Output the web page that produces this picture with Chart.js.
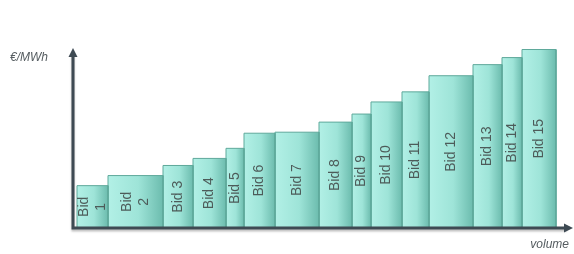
<!DOCTYPE html>
<html>
<head>
<meta charset="utf-8">
<script src="https://cdn.jsdelivr.net/npm/chart.js@4"></script>
<style>
  html, body { margin: 0; padding: 0; background: #fff; }
  #wrap { width: 574px; height: 254px; }
</style>
</head>
<body>
<div id="wrap"><canvas id="myChart"></canvas></div>
<script>
// bid stack: each bid has a volume (width) and a price (height)
var bidLabels = [["Bid", "1"], ["Bid", "2"], "Bid 3", "Bid 4", "Bid 5", "Bid 6", "Bid 7", "Bid 8",
                 "Bid 9", "Bid 10", "Bid 11", "Bid 12", "Bid 13", "Bid 14", "Bid 15"];
var volumes = [31, 55, 30, 33, 18, 31, 44, 33, 19, 31, 27, 44, 29, 20, 34];
var prices  = [42, 52, 62, 69, 79, 94, 95, 105, 113, 125, 135, 151, 162, 169, 177];
var startVolume = 4;

var datasets = [];
var x = startVolume;
for (var i = 0; i < volumes.length; i++) {
    var x0 = x, x1 = x + volumes[i];
    datasets.push({
        label: Array.isArray(bidLabels[i]) ? bidLabels[i].join(' ') : bidLabels[i],
        data: [{x: x0, y: 0}, {x: x0, y: prices[i]}, {x: x1, y: prices[i]}, {x: x1, y: 0}],
        borderColor: '#5fa99b',
        borderWidth: 1,
        pointRadius: 0,
        tension: 0,
        fill: 'origin',
        backgroundColor: function(c) {
            var chart = c.chart;
            var ds = chart.data.datasets[c.datasetIndex];
            var xs = chart.scales.x;
            if (!xs || !chart.chartArea) return '#9fe6da';
            var l = xs.getPixelForValue(ds.data[0].x);
            var r = xs.getPixelForValue(ds.data[2].x);
            var g = chart.ctx.createLinearGradient(l, 0, r, 0);
            g.addColorStop(0, '#b2f0e6');
            g.addColorStop(0.55, '#9ee4d8');
            g.addColorStop(1, '#6cbcae');
            return g;
        }
    });
    x = x1;
}

var axesPlugin = {
    id: 'axesPlugin',
    afterDatasetsDraw: function(chart) {
        var ctx = chart.ctx, a = chart.chartArea;
        var xs = chart.scales.x, ys = chart.scales.y;
        // bid labels, rotated, centred in each bar
        ctx.save();
        ctx.fillStyle = '#4d5b59';
        ctx.font = '14px "Liberation Sans", Arial, sans-serif';
        ctx.textAlign = 'center';
        ctx.textBaseline = 'middle';
        chart.data.datasets.forEach(function(ds, i) {
            var cx = (xs.getPixelForValue(ds.data[0].x) + xs.getPixelForValue(ds.data[2].x)) / 2;
            var cy = (ys.getPixelForValue(0) + ys.getPixelForValue(ds.data[1].y)) / 2;
            var lines = Array.isArray(bidLabels[i]) ? bidLabels[i] : [bidLabels[i]];
            ctx.save();
            ctx.translate(cx, cy);
            ctx.rotate(-Math.PI / 2);
            var lh = 17;
            lines.forEach(function(t, k) {
                ctx.fillText(t, 0, (k - (lines.length - 1) / 2) * lh);
            });
            ctx.restore();
        });
        ctx.restore();

        // axes with arrows
        ctx.save();
        ctx.strokeStyle = '#3e4a53';
        ctx.fillStyle = '#3e4a53';
        ctx.lineWidth = 3;
        ctx.shadowColor = 'rgba(0,0,0,0.25)';
        ctx.shadowOffsetY = 2;
        ctx.shadowBlur = 2;
        ctx.beginPath();
        ctx.moveTo(a.left, a.top + 6);
        ctx.lineTo(a.left, a.bottom);
        ctx.lineTo(a.right - 6, a.bottom);
        ctx.stroke();
        ctx.shadowColor = 'transparent';
        ctx.beginPath();
        ctx.moveTo(a.left, a.top);
        ctx.lineTo(a.left - 4.5, a.top + 9);
        ctx.lineTo(a.left + 4.5, a.top + 9);
        ctx.closePath();
        ctx.fill();
        ctx.beginPath();
        ctx.moveTo(a.right, a.bottom);
        ctx.lineTo(a.right - 9, a.bottom - 4.5);
        ctx.lineTo(a.right - 9, a.bottom + 4.5);
        ctx.closePath();
        ctx.fill();

        // axis titles
        ctx.fillStyle = '#555c60';
        ctx.font = 'italic 12px "Liberation Sans", Arial, sans-serif';
        ctx.textBaseline = 'alphabetic';
        ctx.textAlign = 'left';
        ctx.fillText('€/MWh', 10, 61);
        ctx.textAlign = 'right';
        ctx.fillText('volume', 569, 248);
        ctx.restore();
    }
};

var ctx = document.getElementById("myChart");
var myChart = new Chart(ctx, {
    type: 'line',
    data: { datasets: datasets },
    options: {
        responsive: true,
        maintainAspectRatio: false,
        animation: false,
        layout: { padding: { left: 73, right: 1, top: 48, bottom: 26 } },
        scales: {
            x: { type: 'linear', min: 0, max: 500, display: false },
            y: { min: 0, max: 178.5, display: false }
        },
        plugins: {
            legend: { display: false },
            tooltip: { enabled: false }
        }
    },
    plugins: [axesPlugin]
});
</script>
</body>
</html>
